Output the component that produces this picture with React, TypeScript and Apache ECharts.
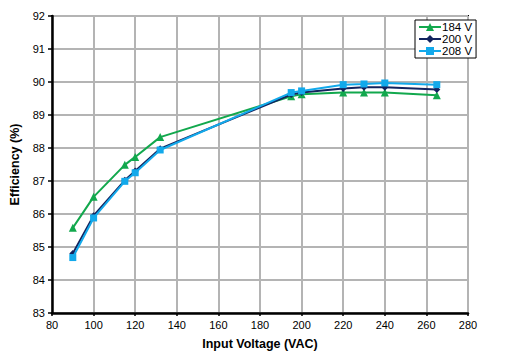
import React, { useEffect, useRef } from "react";
import * as echarts from "echarts";

const voltages = [90, 100, 115, 120, 132, 195, 200, 220, 230, 240, 265];
const eff184 = [85.58, 86.52, 87.49, 87.73, 88.33, 89.57, 89.63, 89.68, 89.68, 89.68, 89.6];
const eff200 = [84.8, 85.95, 87.02, 87.3, 87.98, 89.62, 89.68, 89.8, 89.84, 89.84, 89.77];
const eff208 = [84.68, 85.88, 86.99, 87.25, 87.94, 89.68, 89.73, 89.92, 89.94, 89.97, 89.92];
const seriesNames = ["184 V", "200 V", "208 V"];
const seriesColors = ["#12a84d", "#13235e", "#12a9eb"];
const seriesSymbols = ["triangle", "diamond", "rect"];
const seriesSizes = [8, 7, 7];

export default function App() {
  const ref = useRef<HTMLDivElement>(null);
  useEffect(() => {
    if (!ref.current) return;
    const chart = echarts.init(ref.current, undefined, { renderer: "svg" });
    const datasets = [eff184, eff200, eff208];
    chart.setOption({
      animation: false,
      backgroundColor: "#fff",
      textStyle: { fontFamily: "Liberation Sans, Arial, sans-serif" },
      grid: {
        left: 52,
        right: 38,
        top: 16,
        bottom: 47,
        show: true,
        borderColor: "#000",
        borderWidth: 2,
        containLabel: false,
      },
      legend: {
        orient: "vertical",
        left: 415,
        top: 20,
        data: seriesNames,
        backgroundColor: "#fff",
        borderColor: "#000",
        borderWidth: 1,
        borderRadius: 0,
        padding: [1, 4, 1, 3],
        itemGap: 0,
        itemWidth: 22,
        itemHeight: 10,
        textStyle: { fontSize: 11.5, color: "#000", padding: [0, 0, 0, -4] },
      },
      xAxis: {
        type: "value",
        min: 80,
        max: 280,
        interval: 20,
        name: "Input Voltage (VAC)",
        nameLocation: "middle",
        nameGap: 24,
        nameTextStyle: { fontSize: 12.5, fontWeight: "bold", color: "#000" },
        axisLine: { show: true, lineStyle: { color: "#000", width: 2.5 } },
        axisTick: { show: true, length: 3, lineStyle: { color: "#000", width: 1.5 } },
        axisLabel: { fontSize: 11, color: "#000", margin: 6 },
        splitLine: { show: true, lineStyle: { color: "#b4b4b4", width: 2 } },
      },
      yAxis: {
        type: "value",
        min: 83,
        max: 92,
        interval: 1,
        name: "Efficiency (%)",
        nameLocation: "middle",
        nameGap: 31,
        nameTextStyle: { fontSize: 12.5, fontWeight: "bold", color: "#000" },
        axisLine: { show: true, lineStyle: { color: "#000", width: 2.5 } },
        axisTick: { show: true, length: 4, lineStyle: { color: "#000", width: 1.5 } },
        axisLabel: { fontSize: 11, color: "#000", margin: 7 },
        splitLine: { show: true, lineStyle: { color: "#b4b4b4", width: 2 } },
      },
      series: seriesNames.map((name, i) => ({
        name,
        type: "line",
        data: voltages.map((v, j) => [v, datasets[i][j]]),
        symbol: seriesSymbols[i],
        symbolSize: seriesSizes[i],
        showAllSymbol: true,
        lineStyle: { color: seriesColors[i], width: 2 },
        itemStyle: { color: seriesColors[i] },
        z: 2 + i,
      })),
    });
    return () => chart.dispose();
  }, []);
  return (
    <div
      ref={ref}
      style={{ position: "absolute", left: 0, top: 0, width: 506, height: 360 }}
    />
  );
}
